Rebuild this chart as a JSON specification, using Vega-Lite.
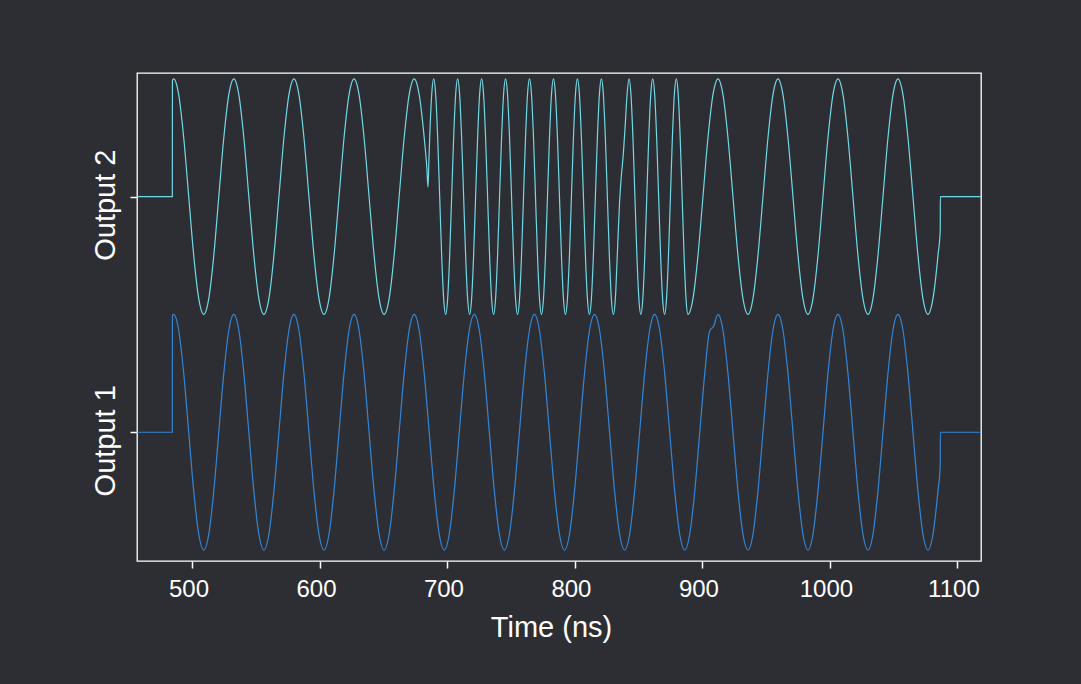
{
  "$schema": "https://vega.github.io/schema/vega-lite/v6.json",
  "width": 844,
  "height": 488,
  "autosize": {"type": "none"},
  "padding": {"left": 137, "top": 73, "right": 100, "bottom": 123},
  "background": "#2c2e33",
  "config": {
    "view": {"stroke": "#ffffff", "strokeWidth": 1.3},
    "axis": {
      "grid": false, "domain": false,
      "tickColor": "#ffffff", "tickWidth": 1.5, "tickSize": 7,
      "labelColor": "#ffffff", "titleColor": "#ffffff",
      "labelFont": "Liberation Sans", "titleFont": "Liberation Sans",
      "titleFontWeight": "normal", "labelOverlap": false, "labelFlush": false
    }
  },
  "datasets": {
    "o1": [
      {"t":456.5,"v":0},{"t":484.2,"v":0},{"t":484.3,"v":0.99},{"t":485.28,"v":1},
      {"t":489.21,"v":0.866},{"t":493.14,"v":0.5},{"t":497.07,"v":0},{"t":501.00,"v":-0.5},{"t":504.93,"v":-0.866},{"t":508.86,"v":-1},{"t":512.79,"v":-0.866},{"t":516.72,"v":-0.5},{"t":520.65,"v":0},{"t":524.58,"v":0.5},{"t":528.51,"v":0.866},{"t":532.44,"v":1},
      {"t":536.37,"v":0.866},{"t":540.30,"v":0.5},{"t":544.23,"v":0},{"t":548.16,"v":-0.5},{"t":552.09,"v":-0.866},{"t":556.02,"v":-1},{"t":559.95,"v":-0.866},{"t":563.88,"v":-0.5},{"t":567.81,"v":0},{"t":571.74,"v":0.5},{"t":575.67,"v":0.866},{"t":579.59,"v":1},
      {"t":583.52,"v":0.866},{"t":587.45,"v":0.5},{"t":591.38,"v":0},{"t":595.31,"v":-0.5},{"t":599.24,"v":-0.866},{"t":603.17,"v":-1},{"t":607.10,"v":-0.866},{"t":611.03,"v":-0.5},{"t":614.96,"v":0},{"t":618.89,"v":0.5},{"t":622.82,"v":0.866},{"t":626.75,"v":1},
      {"t":630.68,"v":0.866},{"t":634.61,"v":0.5},{"t":638.54,"v":0},{"t":642.47,"v":-0.5},{"t":646.40,"v":-0.866},{"t":650.33,"v":-1},{"t":654.26,"v":-0.866},{"t":658.19,"v":-0.5},{"t":662.12,"v":0},{"t":666.05,"v":0.5},{"t":669.98,"v":0.866},{"t":673.91,"v":1},
      {"t":677.84,"v":0.866},{"t":681.77,"v":0.5},{"t":685.70,"v":0},{"t":689.63,"v":-0.5},{"t":693.56,"v":-0.866},{"t":697.49,"v":-1},{"t":701.42,"v":-0.866},{"t":705.35,"v":-0.5},{"t":709.28,"v":0},{"t":713.21,"v":0.5},{"t":717.14,"v":0.866},{"t":721.07,"v":1},
      {"t":725.00,"v":0.866},{"t":728.93,"v":0.5},{"t":732.86,"v":0},{"t":736.79,"v":-0.5},{"t":740.72,"v":-0.866},{"t":744.65,"v":-1},{"t":748.58,"v":-0.866},{"t":752.51,"v":-0.5},{"t":756.44,"v":0},{"t":760.37,"v":0.5},{"t":764.30,"v":0.866},{"t":768.22,"v":1},
      {"t":772.15,"v":0.866},{"t":776.08,"v":0.5},{"t":780.01,"v":0},{"t":783.94,"v":-0.5},{"t":787.87,"v":-0.866},{"t":791.80,"v":-1},{"t":795.73,"v":-0.866},{"t":799.66,"v":-0.5},{"t":803.59,"v":0},{"t":807.52,"v":0.5},{"t":811.45,"v":0.866},{"t":815.38,"v":1},
      {"t":819.31,"v":0.866},{"t":823.24,"v":0.5},{"t":827.17,"v":0},{"t":831.10,"v":-0.5},{"t":835.03,"v":-0.866},{"t":838.96,"v":-1},{"t":842.89,"v":-0.866},{"t":846.82,"v":-0.5},{"t":850.75,"v":0},{"t":854.68,"v":0.5},{"t":858.61,"v":0.866},{"t":862.54,"v":1},
      {"t":866.47,"v":0.866},{"t":870.40,"v":0.5},{"t":874.33,"v":0},{"t":878.26,"v":-0.5},{"t":882.19,"v":-0.866},{"t":886.12,"v":-1},{"t":890.05,"v":-0.866},{"t":893.98,"v":-0.5},{"t":897.91,"v":0},{"t":901.84,"v":0.5},{"t":905.68,"v":0.86},{"t":908.81,"v":0.9},{"t":912.19,"v":1},
      {"t":916.11,"v":0.866},{"t":920.03,"v":0.5},{"t":923.96,"v":0},{"t":927.88,"v":-0.5},{"t":931.80,"v":-0.866},{"t":935.72,"v":-1},{"t":939.64,"v":-0.866},{"t":943.56,"v":-0.5},{"t":947.49,"v":0},{"t":951.41,"v":0.5},{"t":955.33,"v":0.866},{"t":959.25,"v":1},
      {"t":963.17,"v":0.866},{"t":967.09,"v":0.5},{"t":971.02,"v":0},{"t":974.94,"v":-0.5},{"t":978.86,"v":-0.866},{"t":982.78,"v":-1},{"t":986.70,"v":-0.866},{"t":990.62,"v":-0.5},{"t":994.55,"v":0},{"t":998.47,"v":0.5},{"t":1002.39,"v":0.866},{"t":1006.31,"v":1},
      {"t":1010.23,"v":0.866},{"t":1014.15,"v":0.5},{"t":1018.08,"v":0},{"t":1022.00,"v":-0.5},{"t":1025.92,"v":-0.866},{"t":1029.84,"v":-1},{"t":1033.76,"v":-0.866},{"t":1037.68,"v":-0.5},{"t":1041.61,"v":0},{"t":1045.53,"v":0.5},{"t":1049.45,"v":0.866},{"t":1053.37,"v":1},
      {"t":1057.29,"v":0.866},{"t":1061.21,"v":0.5},{"t":1065.14,"v":0},{"t":1069.06,"v":-0.5},{"t":1072.98,"v":-0.866},{"t":1076.90,"v":-1},{"t":1080.82,"v":-0.866},{"t":1084.74,"v":-0.5},{"t":1086.54,"v":-0.28},{"t":1086.6,"v":0},{"t":1118.5,"v":0}
    ],
    "o2": [
      {"t":456.5,"v":2},{"t":484.2,"v":2},{"t":484.3,"v":2.99},{"t":485.28,"v":3},
      {"t":489.21,"v":2.866},{"t":493.14,"v":2.5},{"t":497.07,"v":2},{"t":501.00,"v":1.5},{"t":504.93,"v":1.134},{"t":508.86,"v":1},{"t":512.79,"v":1.134},{"t":516.72,"v":1.5},{"t":520.65,"v":2},{"t":524.58,"v":2.5},{"t":528.51,"v":2.866},{"t":532.44,"v":3},
      {"t":536.37,"v":2.866},{"t":540.30,"v":2.5},{"t":544.23,"v":2},{"t":548.16,"v":1.5},{"t":552.09,"v":1.134},{"t":556.02,"v":1},{"t":559.95,"v":1.134},{"t":563.88,"v":1.5},{"t":567.81,"v":2},{"t":571.74,"v":2.5},{"t":575.67,"v":2.866},{"t":579.59,"v":3},
      {"t":583.52,"v":2.866},{"t":587.45,"v":2.5},{"t":591.38,"v":2},{"t":595.31,"v":1.5},{"t":599.24,"v":1.134},{"t":603.17,"v":1},{"t":607.10,"v":1.134},{"t":611.03,"v":1.5},{"t":614.96,"v":2},{"t":618.89,"v":2.5},{"t":622.82,"v":2.866},{"t":626.75,"v":3},
      {"t":630.68,"v":2.866},{"t":634.61,"v":2.5},{"t":638.54,"v":2},{"t":642.47,"v":1.5},{"t":646.40,"v":1.134},{"t":650.33,"v":1},{"t":654.26,"v":1.134},{"t":658.19,"v":1.5},{"t":662.12,"v":2},{"t":666.05,"v":2.5},{"t":669.98,"v":2.866},{"t":673.91,"v":3},
      {"t":677.84,"v":2.866},{"t":681.77,"v":2.5},{"t":683.8,"v":2.25},{"t":684.74,"v":2.08},{"t":685.5,"v":2.32},{"t":686.08,"v":2.5},{"t":687.64,"v":2.866},{"t":689.21,"v":3},
      {"t":690.78,"v":2.866},{"t":692.34,"v":2.5},{"t":693.91,"v":2},{"t":695.47,"v":1.5},{"t":697.04,"v":1.134},{"t":698.61,"v":1},{"t":700.17,"v":1.134},{"t":701.74,"v":1.5},{"t":703.30,"v":2},{"t":704.87,"v":2.5},{"t":706.43,"v":2.866},{"t":708.00,"v":3},
      {"t":709.57,"v":2.866},{"t":711.13,"v":2.5},{"t":712.70,"v":2},{"t":714.26,"v":1.5},{"t":715.83,"v":1.134},{"t":717.40,"v":1},{"t":718.96,"v":1.134},{"t":720.53,"v":1.5},{"t":722.09,"v":2},{"t":723.66,"v":2.5},{"t":725.22,"v":2.866},{"t":726.79,"v":3},
      {"t":728.36,"v":2.866},{"t":729.92,"v":2.5},{"t":731.49,"v":2},{"t":733.05,"v":1.5},{"t":734.62,"v":1.134},{"t":736.19,"v":1},{"t":737.75,"v":1.134},{"t":739.32,"v":1.5},{"t":740.88,"v":2},{"t":742.45,"v":2.5},{"t":744.01,"v":2.866},{"t":745.58,"v":3},
      {"t":747.15,"v":2.866},{"t":748.71,"v":2.5},{"t":750.28,"v":2},{"t":751.84,"v":1.5},{"t":753.41,"v":1.134},{"t":754.98,"v":1},{"t":756.54,"v":1.134},{"t":758.11,"v":1.5},{"t":759.67,"v":2},{"t":761.24,"v":2.5},{"t":762.80,"v":2.866},{"t":764.37,"v":3},
      {"t":765.94,"v":2.866},{"t":767.50,"v":2.5},{"t":769.07,"v":2},{"t":770.63,"v":1.5},{"t":772.20,"v":1.134},{"t":773.77,"v":1},{"t":775.33,"v":1.134},{"t":776.90,"v":1.5},{"t":778.46,"v":2},{"t":780.03,"v":2.5},{"t":781.59,"v":2.866},{"t":783.16,"v":3},
      {"t":784.73,"v":2.866},{"t":786.29,"v":2.5},{"t":787.86,"v":2},{"t":789.42,"v":1.5},{"t":790.99,"v":1.134},{"t":792.56,"v":1},{"t":794.12,"v":1.134},{"t":795.69,"v":1.5},{"t":797.25,"v":2},{"t":798.82,"v":2.5},{"t":800.38,"v":2.866},{"t":801.95,"v":3},
      {"t":803.52,"v":2.866},{"t":805.08,"v":2.5},{"t":806.65,"v":2},{"t":808.21,"v":1.5},{"t":809.78,"v":1.134},{"t":811.35,"v":1},{"t":812.91,"v":1.134},{"t":814.48,"v":1.5},{"t":816.04,"v":2},{"t":817.61,"v":2.5},{"t":819.17,"v":2.866},{"t":820.74,"v":3},
      {"t":822.31,"v":2.866},{"t":823.87,"v":2.5},{"t":825.44,"v":2},{"t":827.00,"v":1.5},{"t":828.57,"v":1.134},{"t":830.14,"v":1},
      {"t":831.71,"v":1.134},{"t":833.4,"v":1.55},{"t":835.0,"v":1.95},{"t":836.0,"v":2.12},{"t":838.0,"v":2.37},{"t":839.4,"v":2.6},{"t":840.9,"v":2.87},{"t":842.4,"v":3},
      {"t":843.95,"v":2.866},{"t":845.5,"v":2.5},{"t":847.05,"v":2},{"t":848.6,"v":1.5},{"t":850.15,"v":1.134},{"t":851.7,"v":1},{"t":853.25,"v":1.134},{"t":854.8,"v":1.5},{"t":856.35,"v":2},{"t":857.9,"v":2.5},{"t":859.45,"v":2.866},{"t":861.0,"v":3},
      {"t":862.55,"v":2.866},{"t":864.1,"v":2.5},{"t":865.65,"v":2},{"t":867.2,"v":1.5},{"t":868.75,"v":1.134},{"t":870.3,"v":1},{"t":871.83,"v":1.134},{"t":873.37,"v":1.5},{"t":874.9,"v":2},{"t":876.43,"v":2.5},{"t":877.97,"v":2.866},{"t":879.5,"v":3},
      {"t":881.03,"v":2.866},{"t":882.55,"v":2.5},{"t":884.08,"v":2},{"t":885.61,"v":1.5},{"t":887.13,"v":1.134},{"t":888.66,"v":1},
      {"t":892.58,"v":1.134},{"t":896.50,"v":1.5},{"t":900.42,"v":2},{"t":904.34,"v":2.5},{"t":908.27,"v":2.866},{"t":912.19,"v":3},
      {"t":916.11,"v":2.866},{"t":920.03,"v":2.5},{"t":923.96,"v":2},{"t":927.88,"v":1.5},{"t":931.80,"v":1.134},{"t":935.72,"v":1},{"t":939.64,"v":1.134},{"t":943.56,"v":1.5},{"t":947.49,"v":2},{"t":951.41,"v":2.5},{"t":955.33,"v":2.866},{"t":959.25,"v":3},
      {"t":963.17,"v":2.866},{"t":967.09,"v":2.5},{"t":971.02,"v":2},{"t":974.94,"v":1.5},{"t":978.86,"v":1.134},{"t":982.78,"v":1},{"t":986.70,"v":1.134},{"t":990.62,"v":1.5},{"t":994.55,"v":2},{"t":998.47,"v":2.5},{"t":1002.39,"v":2.866},{"t":1006.31,"v":3},
      {"t":1010.23,"v":2.866},{"t":1014.15,"v":2.5},{"t":1018.08,"v":2},{"t":1022.00,"v":1.5},{"t":1025.92,"v":1.134},{"t":1029.84,"v":1},{"t":1033.76,"v":1.134},{"t":1037.68,"v":1.5},{"t":1041.61,"v":2},{"t":1045.53,"v":2.5},{"t":1049.45,"v":2.866},{"t":1053.37,"v":3},
      {"t":1057.29,"v":2.866},{"t":1061.21,"v":2.5},{"t":1065.14,"v":2},{"t":1069.06,"v":1.5},{"t":1072.98,"v":1.134},{"t":1076.90,"v":1},{"t":1080.82,"v":1.134},{"t":1084.74,"v":1.5},{"t":1086.54,"v":1.72},{"t":1086.6,"v":2},{"t":1118.5,"v":2}
    ]
  },
  "encoding": {
    "x": {
      "field": "t", "type": "quantitative",
      "scale": {"domain": [456.5, 1118.5], "nice": false, "zero": false},
      "axis": {
        "values": [500, 600, 700, 800, 900, 1000, 1100],
        "format": "d",
        "title": "Time (ns)",
        "labelFontSize": 24, "labelPadding": 9, "labelOffset": -4, "labelBaseline": "top",
        "titleFontSize": 29, "titleBaseline": "alphabetic", "titleAlign": "center",
        "titleX": 414, "titleY": 75
      }
    },
    "y": {
      "field": "v", "type": "quantitative",
      "scale": {"domain": [-1.093, 3.05], "nice": false, "zero": false},
      "axis": {
        "values": [0, 2],
        "labelExpr": "datum.value == 0 ? 'Output 1' : 'Output 2'",
        "title": null,
        "labelAngle": 270, "labelAlign": "center", "labelBaseline": "alphabetic",
        "labelFontSize": 29, "labelPadding": 16, "labelOffset": 8
      }
    }
  },
  "layer": [
    {
      "data": {"name": "o1"},
      "mark": {"type": "line", "interpolate": "monotone", "color": "#3585d4", "strokeWidth": 1.2}
    },
    {
      "data": {"name": "o2"},
      "mark": {"type": "line", "interpolate": "monotone", "color": "#72d9e6", "strokeWidth": 1.2}
    }
  ]
}
